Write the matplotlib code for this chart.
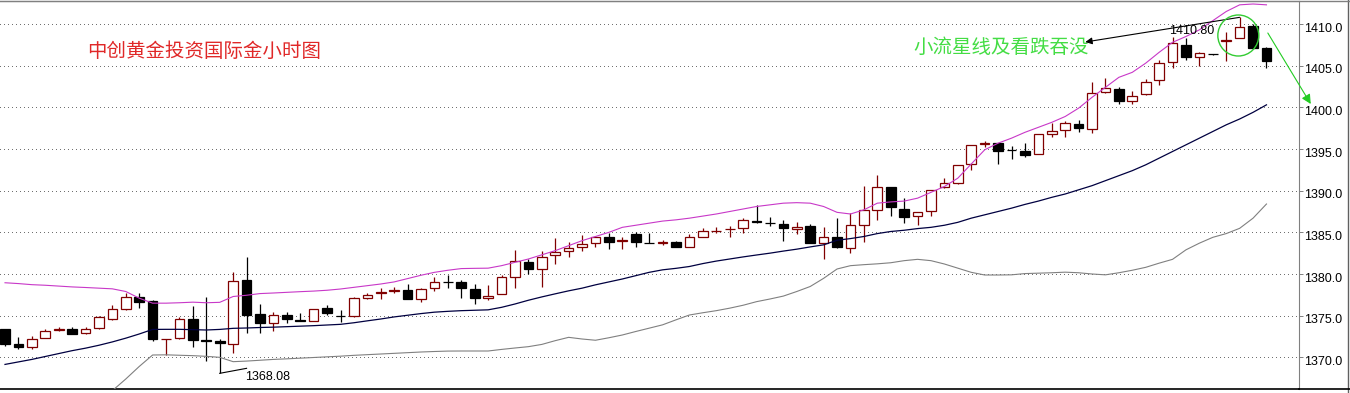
import matplotlib
matplotlib.use("Agg")
import matplotlib.pyplot as plt
import matplotlib.transforms as mtransforms
from matplotlib.patches import Ellipse
from matplotlib.lines import Line2D
import numpy as np

# hourly gold candles (open, high, low, close)
opens = [1373.36, 1371.56, 1371.28, 1372.36, 1373.30, 1373.40, 1372.88, 1373.48, 1374.64, 1375.76,
         1377.20, 1376.76, 1372.16, 1372.36, 1374.56, 1372.02, 1371.96, 1371.60, 1379.28, 1375.20,
         1374.08, 1375.04, 1374.48, 1374.40, 1375.88, 1374.98, 1374.96, 1377.16, 1377.72, 1378.00,
         1378.08, 1376.96, 1378.28, 1379.08, 1379.00, 1378.16, 1377.08, 1377.56, 1379.60, 1381.40,
         1380.56, 1382.24, 1382.80, 1383.24, 1383.68, 1384.40, 1384.00, 1384.80, 1383.76, 1383.76,
         1383.80, 1383.28, 1384.48, 1385.14, 1385.38, 1385.48, 1386.30, 1386.10, 1385.96, 1385.36,
         1385.76, 1383.68, 1384.40, 1383.08, 1385.88, 1387.68, 1390.40, 1387.76, 1386.96, 1387.60,
         1390.40, 1390.96, 1393.16, 1395.66, 1395.68, 1394.90, 1394.80, 1394.36, 1396.80, 1397.28,
         1397.96, 1397.36, 1401.80, 1402.16, 1400.76, 1401.56, 1403.28, 1405.40, 1407.48, 1406.00,
         1406.38, 1408.00, 1408.28, 1409.76, 1407.08]
highs = [1373.40, 1372.40, 1372.56, 1373.36, 1373.68, 1373.60, 1373.60, 1374.96, 1376.24, 1377.68,
         1377.68, 1376.88, 1372.20, 1374.80, 1376.16, 1377.20, 1372.20, 1380.28, 1382.00, 1376.40,
         1375.44, 1375.44, 1375.36, 1375.84, 1376.28, 1375.68, 1377.20, 1377.76, 1378.28, 1378.48,
         1378.80, 1378.28, 1379.60, 1379.88, 1379.28, 1378.80, 1378.68, 1379.88, 1382.88, 1381.76,
         1382.76, 1384.28, 1383.80, 1384.68, 1384.56, 1384.96, 1384.40, 1385.08, 1384.88, 1384.08,
         1384.00, 1384.80, 1385.48, 1385.68, 1385.80, 1386.68, 1388.28, 1386.80, 1386.48, 1386.28,
         1385.96, 1385.60, 1386.68, 1387.28, 1390.56, 1391.88, 1390.40, 1389.08, 1387.48, 1390.08,
         1391.48, 1393.08, 1395.48, 1396.00, 1395.76, 1395.36, 1395.76, 1396.80, 1398.16, 1398.36,
         1398.48, 1403.08, 1403.48, 1402.48, 1401.96, 1403.40, 1405.68, 1408.48, 1408.28, 1406.68,
         1406.38, 1409.08, 1410.80, 1410.00, 1407.28]
lows = [1371.36, 1370.96, 1371.04, 1372.36, 1373.20, 1372.76, 1372.76, 1373.36, 1374.44, 1375.68,
        1375.96, 1372.00, 1370.28, 1372.16, 1371.28, 1369.60, 1368.08, 1370.48, 1372.96, 1372.96,
        1373.20, 1374.16, 1374.32, 1374.32, 1375.04, 1374.28, 1374.88, 1376.96, 1376.96, 1377.68,
        1376.96, 1376.68, 1378.00, 1378.28, 1377.08, 1376.36, 1376.88, 1377.56, 1378.28, 1379.96,
        1378.40, 1381.16, 1382.00, 1382.80, 1383.28, 1383.00, 1383.00, 1383.28, 1383.68, 1383.48,
        1383.20, 1383.28, 1384.40, 1384.96, 1384.48, 1384.96, 1386.08, 1385.76, 1383.96, 1384.80,
        1383.76, 1381.76, 1383.08, 1382.56, 1383.88, 1386.48, 1386.96, 1386.08, 1385.88, 1386.96,
        1390.28, 1390.80, 1392.48, 1395.20, 1393.16, 1393.76, 1394.08, 1394.36, 1396.40, 1396.40,
        1397.08, 1396.96, 1401.68, 1400.40, 1400.36, 1401.48, 1402.68, 1404.76, 1405.68, 1405.00,
        1406.34, 1405.60, 1408.28, 1406.96, 1404.68]
closes = [1371.60, 1371.28, 1372.16, 1373.16, 1373.45, 1372.84, 1373.36, 1374.80, 1375.80, 1377.20,
          1376.68, 1372.16, 1372.20, 1374.56, 1372.08, 1372.00, 1371.68, 1379.16, 1375.08, 1374.08,
          1375.04, 1374.64, 1374.32, 1375.76, 1375.28, 1374.96, 1377.08, 1377.48, 1377.80, 1378.06,
          1376.96, 1378.16, 1379.08, 1379.04, 1378.36, 1377.08, 1377.36, 1379.60, 1381.56, 1380.56,
          1382.08, 1382.60, 1383.08, 1383.56, 1384.40, 1383.88, 1384.04, 1383.80, 1383.72, 1383.80,
          1383.28, 1384.40, 1385.16, 1385.18, 1385.42, 1386.48, 1386.28, 1386.08, 1385.56, 1385.60,
          1383.76, 1384.48, 1383.20, 1385.88, 1387.68, 1390.40, 1388.00, 1386.80, 1387.48, 1390.08,
          1390.96, 1393.08, 1395.48, 1395.70, 1394.80, 1394.88, 1394.28, 1396.80, 1397.16, 1398.08,
          1397.48, 1401.68, 1402.28, 1400.80, 1401.40, 1403.08, 1405.28, 1407.76, 1406.00, 1406.48,
          1406.36, 1408.04, 1409.60, 1407.08, 1405.60]

# Bollinger bands
bb_upper = [1378.95, 1378.85, 1378.72, 1378.65, 1378.55, 1378.45, 1378.38, 1378.30, 1378.22, 1377.90,
            1377.10, 1376.50, 1376.50, 1376.55, 1376.62, 1376.55, 1376.60, 1377.30, 1377.45, 1377.65,
            1377.72, 1377.80, 1377.88, 1377.95, 1378.05, 1378.20, 1378.40, 1378.60, 1378.80, 1379.05,
            1379.45, 1379.85, 1380.20, 1380.45, 1380.65, 1380.68, 1380.70, 1381.00, 1381.40, 1381.80,
            1382.30, 1382.80, 1383.40, 1384.00, 1384.50, 1385.00, 1385.60, 1385.85, 1386.10, 1386.35,
            1386.50, 1386.70, 1386.95, 1387.20, 1387.50, 1387.80, 1388.10, 1388.30, 1388.50, 1388.56,
            1388.50, 1388.10, 1387.40, 1387.20, 1387.70, 1388.50, 1388.65, 1388.75, 1389.10, 1389.80,
            1390.50, 1391.50, 1393.20, 1394.90, 1395.70, 1396.30, 1397.00, 1397.60, 1398.20, 1398.90,
            1399.90, 1401.20, 1402.40, 1403.60, 1404.20, 1405.30, 1406.60, 1407.80, 1408.50, 1409.30,
            1410.40, 1411.50, 1412.30, 1412.40, 1412.30]
bb_middle = [1369.15, 1369.45, 1369.75, 1370.10, 1370.45, 1370.80, 1371.10, 1371.45, 1371.85, 1372.30,
             1372.80, 1373.35, 1373.36, 1373.36, 1373.32, 1373.28, 1373.35, 1373.48, 1373.52, 1373.58,
             1373.62, 1373.68, 1373.74, 1373.80, 1373.88, 1373.96, 1374.15, 1374.38, 1374.60, 1374.85,
             1375.05, 1375.25, 1375.42, 1375.52, 1375.60, 1375.65, 1375.70, 1376.00, 1376.40, 1376.85,
             1377.25, 1377.62, 1377.98, 1378.30, 1378.70, 1379.05, 1379.40, 1379.80, 1380.20, 1380.50,
             1380.68, 1380.90, 1381.25, 1381.55, 1381.80, 1382.05, 1382.28, 1382.50, 1382.75, 1382.98,
             1383.25, 1383.50, 1384.05, 1384.25, 1384.50, 1384.85, 1385.10, 1385.25, 1385.45, 1385.60,
             1385.85, 1386.20, 1386.70, 1387.10, 1387.50, 1387.90, 1388.35, 1388.75, 1389.20, 1389.60,
             1390.10, 1390.60, 1391.20, 1391.80, 1392.40, 1393.10, 1393.90, 1394.70, 1395.50, 1396.30,
             1397.10, 1397.90, 1398.60, 1399.40, 1400.30]
bb_lower = [np.nan] * 7 + [
            1364.60, 1366.00, 1367.40, 1368.90, 1370.28, 1370.30, 1370.25, 1370.20, 1370.12, 1370.00,
            1369.48, 1369.55, 1369.65, 1369.75, 1369.82, 1369.90, 1369.98, 1370.06, 1370.14, 1370.24,
            1370.32, 1370.40, 1370.48, 1370.56, 1370.64, 1370.70, 1370.75, 1370.76, 1370.76, 1370.76,
            1370.95, 1371.12, 1371.28, 1371.55, 1372.00, 1372.40, 1372.20, 1372.05, 1372.35, 1372.68,
            1373.10, 1373.50, 1373.90, 1374.50, 1375.08, 1375.35, 1375.60, 1375.90, 1376.25, 1376.68,
            1377.00, 1377.35, 1377.90, 1378.50, 1379.48, 1380.60, 1381.00, 1381.12, 1381.22, 1381.35,
            1381.60, 1381.76, 1381.60, 1381.20, 1380.70, 1380.20, 1379.88, 1379.88, 1379.90, 1380.05,
            1380.10, 1380.15, 1380.22, 1380.15, 1380.00, 1379.90, 1380.15, 1380.45, 1380.80, 1381.30,
            1381.76, 1382.90, 1383.70, 1384.40, 1384.85, 1385.48, 1386.70, 1388.40]

price_levels = [1370.0, 1375.0, 1380.0, 1385.0, 1390.0, 1395.0, 1400.0, 1405.0, 1410.0]
low_mark = 1368.08
high_mark = 1410.80

UP_EDGE = "#800000"
W, H = 1350, 393

fig = plt.figure(figsize=(W / 100, H / 100), dpi=100)
fig.patch.set_facecolor("white")
ax = fig.add_axes([0, 4 / H, 1299 / W, 388 / H])

x = np.arange(len(opens))
o = np.array(opens)
c = np.array(closes)
up = c >= o
edge = np.where(up, UP_EDGE, "black")
face = np.where(up, "white", "black")
bottom = np.minimum(o, c)
height = np.maximum(np.abs(c - o), 0.04)

ax.vlines(x, lows, highs, colors=edge, lw=0.9, zorder=2)
ax.bar(x, height, bottom=bottom, width=0.72, color=face, edgecolor=edge,
       linewidth=0.9, zorder=3)

ax.plot(x, bb_upper, color="#c838c8", lw=0.8, zorder=4)
ax.plot(x, bb_middle, color="#000040", lw=0.9, zorder=4)
ax.plot(x, bb_lower, color="#808080", lw=0.8, zorder=4)

ax.set_xlim(-5 / 13.42, 1294 / 13.42)
ax.set_ylim(1366.2, 1412.76)

# grid + right hand price scale
ax.set_yticks(price_levels)
ax.set_yticklabels([f"{v:.1f}" for v in price_levels])
ax.set_xticks([])
ax.grid(axis="y", linestyle=(0, (1, 3)), color="#707070", lw=0.72, antialiased=False)
ax.tick_params(axis="y", left=False, labelleft=False, right=True, labelright=True,
               length=3, width=0.7, color="#808080", pad=1, labelsize=9)
shift = mtransforms.ScaledTranslation(0, -3 / 100, fig.dpi_scale_trans)
for lbl in ax.get_yticklabels():
    lbl.set_fontfamily("Liberation Sans")
    lbl.set_transform(lbl.get_transform() + shift)

ax.spines["left"].set_visible(False)
ax.spines["top"].set_color("#808080")
ax.spines["right"].set_color("#808080")
ax.spines["bottom"].set_color("black")
ax.spines["bottom"].set_linewidth(1.2)

# border of the whole window
fig.add_artist(Line2D([1347.5 / W] * 2, [0, 1], color="#606060", lw=1.0))
fig.add_artist(Line2D([1299 / W, 1], [4 / H] * 2, color="black", lw=1.2))
fig.add_artist(Line2D([0, 1], [1 - 0.5 / H] * 2, color="#808080", lw=1.0))

cjk = ["Noto Sans CJK SC", "DejaVu Sans"]
ax.text(87 / 1299, 0.871, "中创黄金投资国际金小时图", transform=ax.transAxes,
        color="#e02828", fontsize=14, family=cjk, va="center", ha="left")
ax.text(913 / 1299, 0.879, "小流星线及看跌吞没", transform=ax.transAxes,
        color="#44dd44", fontsize=14, family=cjk, va="center", ha="left")

# low / high price marks
i_low = int(np.argmin(lows))
ax.plot([i_low, i_low + 2.0], [low_mark, low_mark + 0.6], color="black", lw=0.8, zorder=5)
ax.text(i_low + 1.9, low_mark - 0.45, f"{low_mark:.2f}", fontsize=9,
        family="Liberation Sans", va="center", ha="left")

i_high = int(np.argmax(highs))
ax.annotate("", xy=(80.5, 1407.84), xytext=(i_high, high_mark),
            arrowprops=dict(arrowstyle="-|>", color="black", lw=0.8,
                            mutation_scale=10, shrinkA=0, shrinkB=0), zorder=5)
ax.text(90.1, 1409.16, f"{high_mark:.2f}", fontsize=9, family="Liberation Sans",
        va="center", ha="right", zorder=5)

ax.add_patch(Ellipse((91.9, 1408.62), 3.05, 4.92, fill=False,
                     edgecolor="#33cc33", lw=1.0, zorder=6))
ax.annotate("", xy=(97.3, 1400.4), xytext=(94.1, 1408.92),
            arrowprops=dict(arrowstyle="-|>", color="#22cc22", lw=0.8,
                            mutation_scale=14, shrinkA=0, shrinkB=0),
            annotation_clip=False, zorder=6)

fig.savefig("out.png", dpi=100, facecolor="white")
